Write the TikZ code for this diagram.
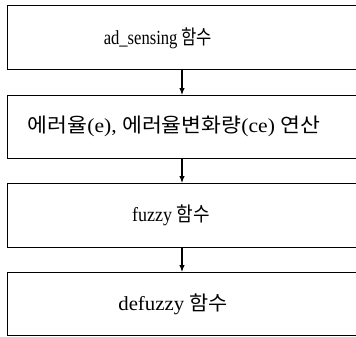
\documentclass[tikz,border=0pt]{standalone}
\usepackage{fontspec}
\setmainfont{Liberation Serif}
\newfontfamily\kr{Noto Sans CJK KR}
\usetikzlibrary{arrows.meta}
\begin{document}
\begin{tikzpicture}[x=1pt,y=-1pt,
  box/.style={draw, line width=1.4pt, rectangle, inner sep=0pt, anchor=north west},
  lbl/.style={inner sep=0pt, font=\fontsize{20pt}{24pt}\selectfont},
  arr/.style={line width=1.1pt, -{Latex[length=7pt,width=5.5pt]}}]
\useasboundingbox (0,0) rectangle (356,337);
\begin{scope}
\clip (0,0) rectangle (356,337);
\node[box, minimum width=352pt, minimum height=64pt] (b1) at (7,5) {};
\node[box, minimum width=352pt, minimum height=63pt] (b2) at (7,95) {};
\node[box, minimum width=352pt, minimum height=64pt] (b3) at (7,183) {};
\node[box, minimum width=352pt, minimum height=63pt] (b4) at (7,272) {};
\end{scope}
\node[lbl] (t1) at (158,38) {\scalebox{0.83}[1]{ad\_sensing {\kr 함수}}};
\node[lbl] (t2) at (174,126) {\scalebox{1.08}[1]{{\kr 에러율}(e), {\kr 에러율변화량}(ce) {\kr 연산}}};
\node[lbl] (t3) at (171,215) {\scalebox{0.9}[1]{fuzzy {\kr 함수}}};
\node[lbl] (t4) at (173,304) {\scalebox{1.04}[1]{defuzzy {\kr 함수}}};
\coordinate (ax) at (182,0);
\draw[arr] (b1.south -| ax) -- (b2.north -| ax);
\draw[arr] (b2.south -| ax) -- (b3.north -| ax);
\draw[arr] (b3.south -| ax) -- (b4.north -| ax);
\end{tikzpicture}
\end{document}
